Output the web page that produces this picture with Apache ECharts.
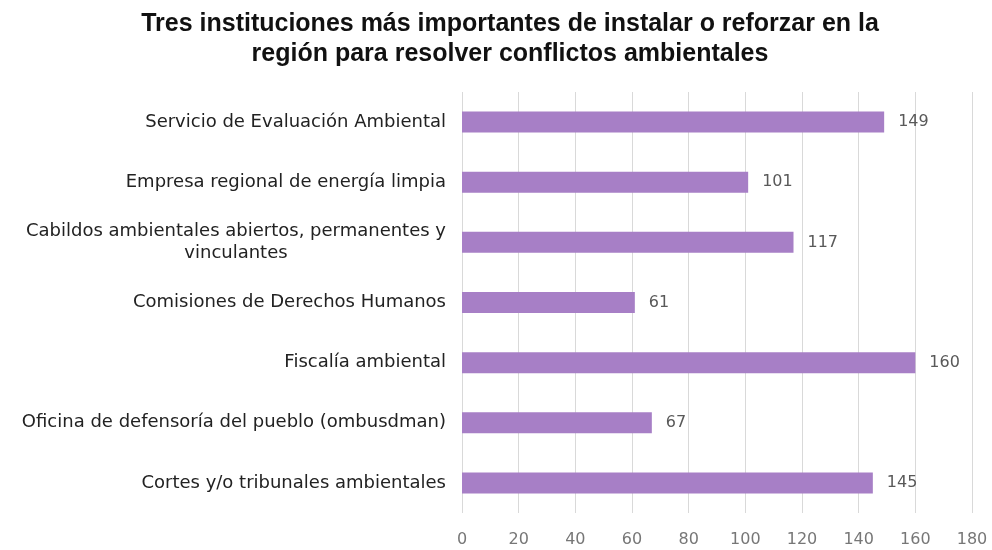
<!DOCTYPE html>
<html><head><meta charset="utf-8">
<script src="https://cdn.jsdelivr.net/npm/echarts@6/dist/echarts.min.js"></script>
<style>html,body{margin:0;padding:0;background:#fff}#c{width:992px;height:550px}</style>
</head><body><div id="c"></div>
<script>
const titleText = "Tres instituciones más importantes de instalar o reforzar en la\nregión para resolver conflictos ambientales";
const categories = [
  "Servicio de Evaluación Ambiental",
  "Empresa regional de energía limpia",
  "Cabildos ambientales abiertos, permanentes y\nvinculantes",
  "Comisiones de Derechos Humanos",
  "Fiscalía ambiental",
  "Oficina de defensoría del pueblo (ombusdman)",
  "Cortes y/o tribunales ambientales"
];
const values = [149, 101, 117, 61, 160, 67, 145];

const labelFont = '"DejaVu Sans", Verdana, sans-serif';
const chart = echarts.init(document.getElementById('c'));
chart.setOption({
  backgroundColor: '#fff',
  animation: false,
  title: {
    text: titleText,
    left: 505, top: 4, textAlign: 'center',
    textStyle: {fontFamily: '"Liberation Sans", Arial', fontWeight: 'bold', fontSize: 25, lineHeight: 30, color: '#111'}
  },
  grid: {left: 462, right: 20, top: 92, bottom: 37, containLabel: false},
  xAxis: {
    type: 'value', min: 0, max: 180, interval: 20,
    axisLine: {show: false}, axisTick: {show: false},
    splitLine: {lineStyle: {color: '#d9d9d9', width: 1}},
    axisLabel: {color: '#777', fontSize: 16, fontFamily: labelFont, margin: 19}
  },
  yAxis: {
    type: 'category', data: categories, inverse: true,
    axisLine: {show: false}, axisTick: {show: false},
    axisLabel: {
      color: '#222', fontSize: 18, fontFamily: labelFont, margin: 16,
      formatter: v => v.split('\n').map(s => '{c|' + s + '}').join('\n'),
      rich: {c: {align: 'center', fontSize: 18, color: '#222', fontFamily: labelFont, lineHeight: 22}}
    }
  },
  series: [{
    type: 'bar', data: values, barWidth: 21,
    itemStyle: {color: '#a77fc6'},
    label: {show: true, position: 'right', distance: 14, color: '#595959', fontSize: 16, fontFamily: labelFont}
  }]
});
</script></body></html>
